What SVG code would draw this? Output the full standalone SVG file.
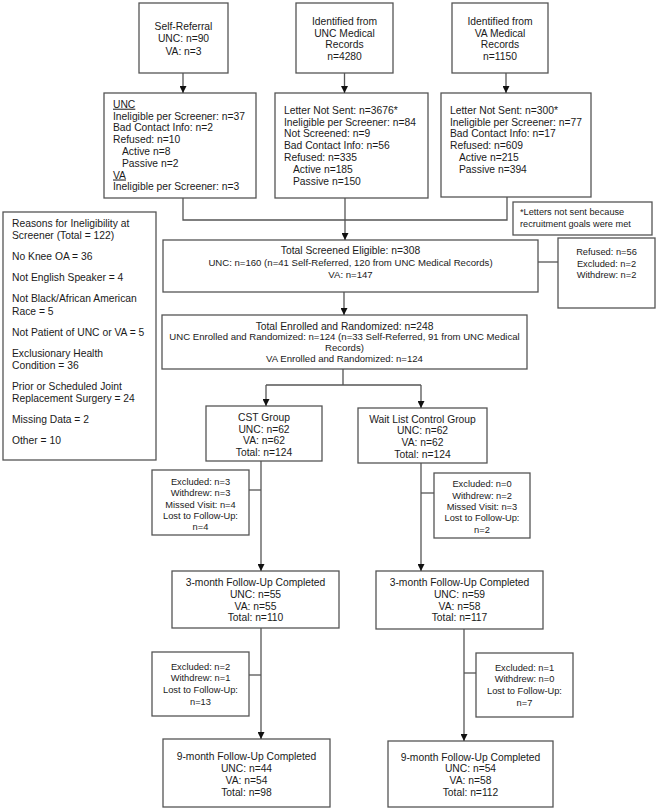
<svg xmlns="http://www.w3.org/2000/svg" width="659" height="810" viewBox="0 0 659 810">
<defs>
<marker id="arr" viewBox="0 0 10 10" refX="10" refY="5" markerWidth="8" markerHeight="7" markerUnits="userSpaceOnUse" orient="auto"><path d="M0,0 L10,5 L0,10 z" fill="#111"/></marker>
</defs>
<style>
.box{fill:#fff;stroke:#555;stroke-width:1.3}
text{font-family:"Liberation Sans",Arial,sans-serif;font-size:10.3px;fill:#1a1a1a}
.s{font-size:9.3px}
.m{font-size:9.6px}
.f{font-size:9.2px}
.c{text-anchor:middle}
.u{text-decoration:underline}
.ln{fill:none;stroke:#555;stroke-width:1.3}
.a{marker-end:url(#arr)}
</style>
<rect width="659" height="810" fill="#fff"/>

<g id="self-referral">
<rect class="box" x="139" y="3" width="89" height="70"/>
<text class="c" x="183.5" y="29.5">Self-Referral</text>
<text class="c" x="183.5" y="42.3">UNC: n=90</text>
<text class="c" x="183.5" y="55">VA: n=3</text>
</g>
<g id="unc-records">
<rect class="box" x="296" y="3" width="97" height="70"/>
<text class="c" x="344.5" y="24.7">Identified from</text>
<text class="c" x="344.5" y="36.5">UNC Medical</text>
<text class="c" x="344.5" y="48.3">Records</text>
<text class="c" x="344.5" y="60">n=4280</text>
</g>
<g id="va-records">
<rect class="box" x="452" y="3" width="96" height="70"/>
<text class="c" x="500" y="24.7">Identified from</text>
<text class="c" x="500" y="36.5">VA Medical</text>
<text class="c" x="500" y="48.3">Records</text>
<text class="c" x="500" y="60">n=1150</text>
</g>

<g id="self-screen">
<rect class="box" x="104" y="93" width="152" height="105"/>
<text class="u" x="113" y="107.7">UNC</text>
<text x="113" y="119.5">Ineligible per Screener: n=37</text>
<text x="113" y="131.3">Bad Contact Info: n=2</text>
<text x="113" y="143.1">Refused: n=10</text>
<text x="122" y="154.9">Active n=8</text>
<text x="122" y="166.7">Passive n=2</text>
<text class="u" x="113" y="178.5">VA</text>
<text x="113" y="190.3">Ineligible per Screener: n=3</text>
</g>
<g id="unc-screen">
<rect class="box" x="275" y="93" width="153" height="105"/>
<text x="284" y="113.7">Letter Not Sent: n=3676*</text>
<text x="284" y="125.5">Ineligible per Screener: n=84</text>
<text x="284" y="137.3">Not Screened: n=9</text>
<text x="284" y="149.1">Bad Contact Info: n=56</text>
<text x="284" y="160.9">Refused: n=335</text>
<text x="293" y="172.7">Active n=185</text>
<text x="293" y="184.5">Passive n=150</text>
</g>
<g id="va-screen">
<rect class="box" x="441" y="93" width="150" height="104"/>
<text x="450" y="113.7">Letter Not Sent: n=300*</text>
<text x="450" y="125.5">Ineligible per Screener: n=77</text>
<text x="450" y="137.3">Bad Contact Info: n=17</text>
<text x="450" y="149.1">Refused: n=609</text>
<text x="459" y="160.9">Active n=215</text>
<text x="459" y="172.7">Passive n=394</text>
</g>

<g id="footnote">
<rect class="box" x="513" y="202" width="139" height="33"/>
<text class="f" x="520" y="215.3">*Letters not sent because</text>
<text class="f" x="520" y="227.3">recruitment goals were met</text>
</g>

<g id="reasons">
<rect class="box" x="3" y="212" width="153" height="248"/>
<text x="12" y="227">Reasons for Ineligibility at</text>
<text x="12" y="239.3">Screener (Total = 122)</text>
<text x="12" y="260.3">No Knee OA = 36</text>
<text x="12" y="281.3">Not English Speaker = 4</text>
<text x="12" y="302.3">Not Black/African American</text>
<text x="12" y="314.6">Race = 5</text>
<text x="12" y="335.6">Not Patient of UNC or VA = 5</text>
<text x="12" y="356.6">Exclusionary Health</text>
<text x="12" y="368.9">Condition = 36</text>
<text x="12" y="389.9">Prior or Scheduled Joint</text>
<text x="12" y="402.2">Replacement Surgery = 24</text>
<text x="12" y="423.2">Missing Data = 2</text>
<text x="12" y="444.2">Other = 10</text>
</g>

<g id="screened-eligible">
<rect class="box" x="163" y="240" width="375" height="52"/>
<text class="c" x="350.5" y="254">Total Screened Eligible: n=308</text>
<text class="c m" x="350.5" y="266">UNC: n=160 (n=41 Self-Referred, 120 from UNC Medical Records)</text>
<text class="c m" x="350.5" y="277.5">VA: n=147</text>
</g>
<g id="screen-exclusions">
<rect class="box" x="558" y="238" width="97" height="70"/>
<text class="c s" x="606.5" y="255">Refused: n=56</text>
<text class="c s" x="606.5" y="266.5">Excluded: n=2</text>
<text class="c s" x="606.5" y="278">Withdrew: n=2</text>
</g>

<g id="enrolled">
<rect class="box" x="162" y="315" width="365" height="54"/>
<text class="c" x="344.5" y="329.5">Total Enrolled and Randomized: n=248</text>
<text class="c m" x="344.5" y="340.3">UNC Enrolled and Randomized: n=124 (n=33 Self-Referred, 91 from UNC Medical</text>
<text class="c m" x="344.5" y="350.8">Records)</text>
<text class="c m" x="344.5" y="361.8">VA Enrolled and Randomized: n=124</text>
</g>

<g id="cst">
<rect class="box" x="206" y="406" width="116" height="55"/>
<text class="c" x="264" y="421">CST Group</text>
<text class="c" x="264" y="432.7">UNC: n=62</text>
<text class="c" x="264" y="444.4">VA: n=62</text>
<text class="c" x="264" y="456.2">Total: n=124</text>
</g>
<g id="waitlist">
<rect class="box" x="358" y="408" width="129" height="55"/>
<text class="c" x="422.5" y="422.7">Wait List Control Group</text>
<text class="c" x="422.5" y="434.4">UNC: n=62</text>
<text class="c" x="422.5" y="446">VA: n=62</text>
<text class="c" x="422.5" y="457.8">Total: n=124</text>
</g>

<g id="cst-loss-1">
<rect class="box" x="152" y="470" width="97" height="65"/>
<text class="c s" x="200.5" y="485">Excluded: n=3</text>
<text class="c s" x="200.5" y="496.3">Withdrew: n=3</text>
<text class="c s" x="200.5" y="507.6">Missed Visit: n=4</text>
<text class="c s" x="200.5" y="518.9">Lost to Follow-Up:</text>
<text class="c s" x="200.5" y="530.2">n=4</text>
</g>
<g id="wl-loss-1">
<rect class="box" x="434" y="473" width="96" height="65"/>
<text class="c s" x="482" y="487.3">Excluded: n=0</text>
<text class="c s" x="482" y="498.6">Withdrew: n=2</text>
<text class="c s" x="482" y="509.9">Missed Visit: n=3</text>
<text class="c s" x="482" y="521.2">Lost to Follow-Up:</text>
<text class="c s" x="482" y="532.5">n=2</text>
</g>

<g id="cst-3month">
<rect class="box" x="172" y="571" width="167" height="57"/>
<text class="c" x="255.5" y="585.7">3-month Follow-Up Completed</text>
<text class="c" x="255.5" y="597.6">UNC: n=55</text>
<text class="c" x="255.5" y="609.5">VA: n=55</text>
<text class="c" x="255.5" y="621.4">Total: n=110</text>
</g>
<g id="wl-3month">
<rect class="box" x="376" y="571" width="167" height="58"/>
<text class="c" x="459.5" y="585.7">3-month Follow-Up Completed</text>
<text class="c" x="459.5" y="597.6">UNC: n=59</text>
<text class="c" x="459.5" y="609.5">VA: n=58</text>
<text class="c" x="459.5" y="621.4">Total: n=117</text>
</g>

<g id="cst-loss-2">
<rect class="box" x="152" y="652" width="97" height="64"/>
<text class="c s" x="200.5" y="669.5">Excluded: n=2</text>
<text class="c s" x="200.5" y="681.2">Withdrew: n=1</text>
<text class="c s" x="200.5" y="693">Lost to Follow-Up:</text>
<text class="c s" x="200.5" y="704.8">n=13</text>
</g>
<g id="wl-loss-2">
<rect class="box" x="476" y="653" width="97" height="64"/>
<text class="c s" x="524.5" y="670.5">Excluded: n=1</text>
<text class="c s" x="524.5" y="682.3">Withdrew: n=0</text>
<text class="c s" x="524.5" y="694">Lost to Follow-Up:</text>
<text class="c s" x="524.5" y="705.8">n=7</text>
</g>

<g id="cst-9month">
<rect class="box" x="163" y="739" width="167" height="68"/>
<text class="c" x="246.5" y="759.7">9-month Follow-Up Completed</text>
<text class="c" x="246.5" y="771.7">UNC: n=44</text>
<text class="c" x="246.5" y="783.7">VA: n=54</text>
<text class="c" x="246.5" y="795.7">Total: n=98</text>
</g>
<g id="wl-9month">
<rect class="box" x="388" y="741" width="165" height="66"/>
<text class="c" x="470.5" y="760.7">9-month Follow-Up Completed</text>
<text class="c" x="470.5" y="772.4">UNC: n=54</text>
<text class="c" x="470.5" y="784">VA: n=58</text>
<text class="c" x="470.5" y="795.7">Total: n=112</text>
</g>

<g id="connectors">
<path class="ln a" d="M183,73 V93"/>
<path class="ln a" d="M344.5,73 V93"/>
<path class="ln a" d="M506,73 V93"/>
<path class="ln" d="M183,198 V220 H507 V197"/>
<path class="ln a" d="M345,198 V240"/>
<path class="ln" d="M538,262 H558"/>
<path class="ln a" d="M344,292 V315"/>
<path class="ln" d="M343,369 V385 M266,385 H421"/>
<path class="ln a" d="M266,385 V406"/>
<path class="ln a" d="M421,385 V408"/>
<path class="ln a" d="M261,461 V571"/>
<path class="ln" d="M249,490 H261"/>
<path class="ln a" d="M421,463 V571"/>
<path class="ln" d="M421,493 H434"/>
<path class="ln a" d="M261,628 V739"/>
<path class="ln" d="M249,675 H261"/>
<path class="ln a" d="M464,629 V741"/>
<path class="ln" d="M464,673 H476"/>
</g>
</svg>
